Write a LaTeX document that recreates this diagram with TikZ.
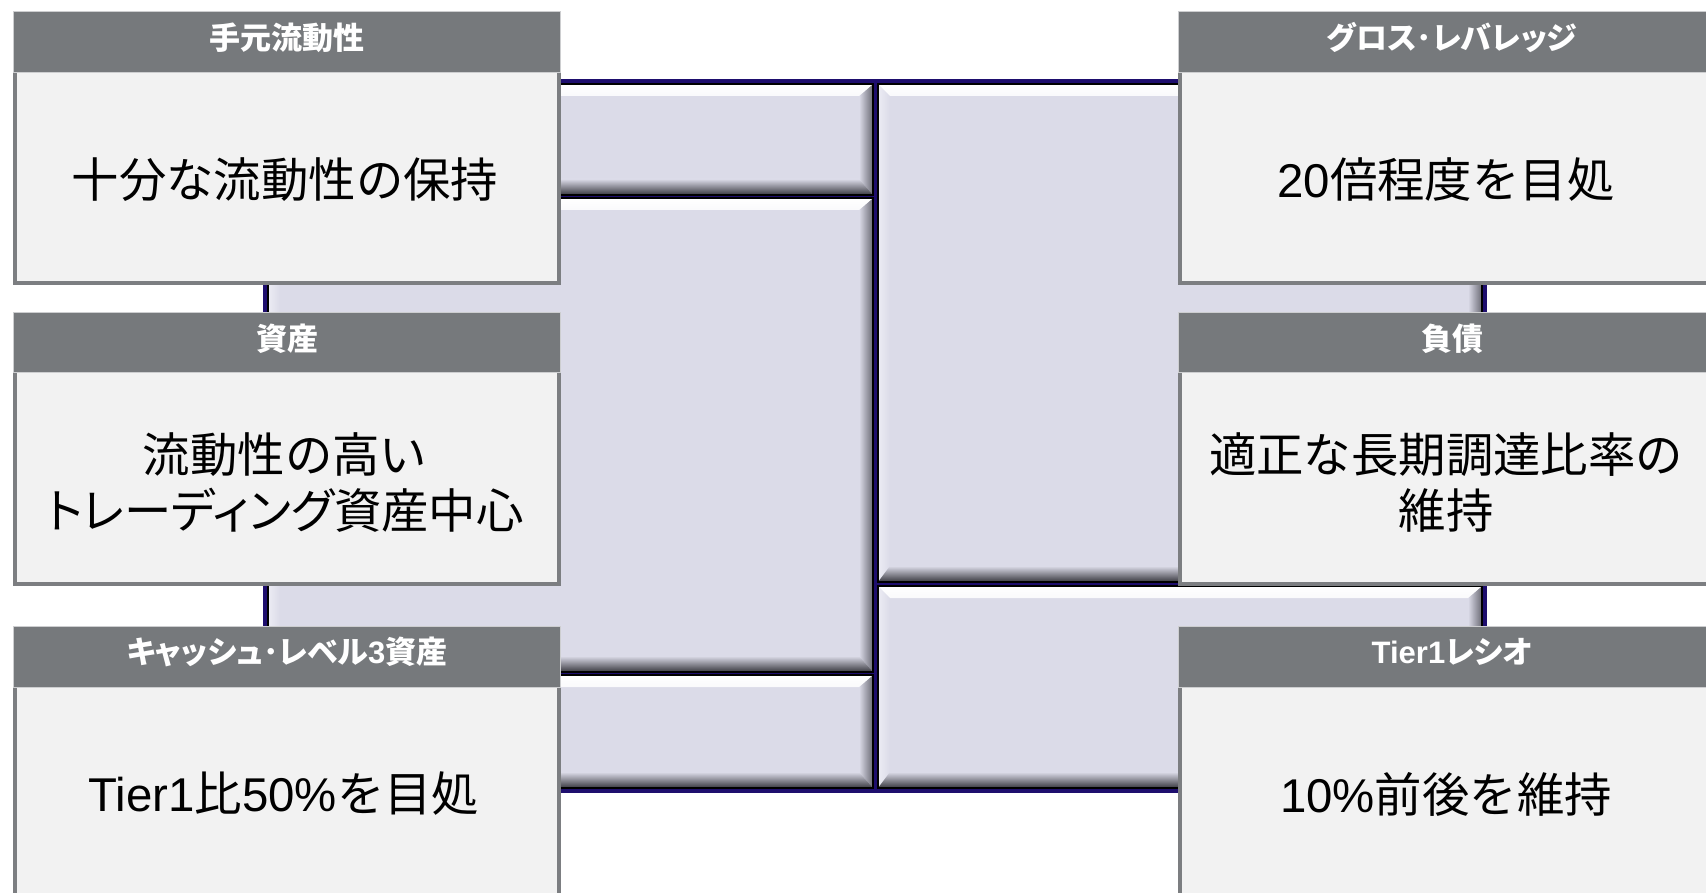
\documentclass[tikz,border=0pt]{standalone}
\usepackage{fontspec}
\setmainfont{Liberation Sans}
\newfontfamily\jp{Noto Sans CJK JP}
\newfontfamily\jpp{Noto Sans CJK JP}[RawFeature=+palt]
\newfontfamily\lt{Liberation Sans}
\definecolor{hdr}{RGB}{118,121,124}
\definecolor{hdrline}{RGB}{205,206,208}
\definecolor{bodyf}{RGB}{242,242,242}
\definecolor{bodyline}{RGB}{124,126,129}
\definecolor{navy}{RGB}{30,14,110}
\definecolor{lav}{RGB}{219,219,232}
\definecolor{lavhi}{RGB}{236,236,244}
\definecolor{lavsh}{RGB}{105,105,115}
\definecolor{lavmid}{RGB}{150,150,160}
\definecolor{lavdk}{RGB}{55,55,62}
\newcommand\bevpanel[4]{%
  \fill[lav] (#1,#2) rectangle (#3,#4);
  \shade[left color=lavhi, right color=lav] (#1,#2) -- ({#1+12},{#2+12}) -- ({#1+12},{#4-16}) -- (#1,#4) -- cycle;
  \shade[left color=lav, right color=lavsh] (#3,#2) -- ({#3-14},{#2+12}) -- ({#3-14},{#4-16}) -- (#3,#4) -- cycle;
  \shade[top color=lav, middle color=lavmid, bottom color=lavdk] (#1,#4) -- ({#1+12},{#4-16}) -- ({#3-14},{#4-16}) -- (#3,#4) -- cycle;
  \shade[top color=white, bottom color=white!85!lav] (#1,#2) -- ({#1+12},{#2+12}) -- ({#3-14},{#2+12}) -- (#3,#2) -- cycle;
  \draw[black, line width=1.1pt] (#1,#2) rectangle (#3,#4);
}
% x1, x2, header top, header bottom, body bottom
\newcommand\infobox[5]{%
  \fill[bodyf] (#1,#4) rectangle (#2,#5);
  \draw[bodyline, line width=2pt] ({#1+2},#4) -- ({#1+2},{#5-2}) -- ({#2-2},{#5-2}) -- ({#2-2},#4);
  \fill[hdr] (#1,#3) rectangle (#2,#4);
  \draw[hdrline, line width=0.5pt] ({#1+0.5},{#3+0.5}) rectangle ({#2-0.5},#4);
}
\tikzset{
  hd/.style={font=\jpp\bfseries\fontsize{15.5}{18}\selectfont, text=white, inner sep=0pt},
  bd/.style={font=\jp\fontsize{23.7}{28}\selectfont, text=black, align=center, inner sep=0pt}
}
\begin{document}
\begin{tikzpicture}[x=0.5pt,y=-0.5pt]
\useasboundingbox (0,0) rectangle (1706,893);
\clip (0,0) rectangle (1706,893);
\fill[white] (0,0) rectangle (1706,893);
% frame
\fill[navy] (263,79) rectangle (1487,793);
\bevpanel{268}{84}{873}{195}
\bevpanel{268}{198}{873}{672}
\bevpanel{268}{675}{873}{788}
\bevpanel{878}{84}{1482}{582}
\bevpanel{878}{586}{1482}{788}
% left boxes
\infobox{13}{561}{11}{73}{285}
\infobox{13}{561}{312}{372}{586}
\infobox{13}{561}{626}{687}{910}
% right boxes
\infobox{1178}{1726}{11}{73}{285}
\infobox{1178}{1726}{312}{372}{586}
\infobox{1178}{1726}{626}{687}{910}
% texts
\node[hd] (lh1) at (287,38) {手元流動性};
\node[bd] (lb1) at (285,180) {十分な流動性の保持};
\node[hd] (lh2) at (287,339) {資産};
\node[bd] (lb2) at (285,483) {流動性の高い\\{\jpp トレーディング}資産中心};
\node[hd] (lh3) at (287,652) {キャッシュ･レベル{\lt 3}資産};
\node[bd] (lb3) at (284,794) {{\lt Tier1}比{\lt 50\%}を目処};
\node[hd] (rh1) at (1452,38) {グロス･レバレッジ};
\node[bd] (rb1) at (1446,180) {{\lt 20}倍程度を目処};
\node[hd] (rh2) at (1452,339) {負債};
\node[bd] (rb2) at (1446,483) {適正な長期調達比率の\\維持};
\node[hd] (rh3) at (1452,652) {{\lt Tier1}レシオ};
\node[bd] (rb3) at (1446,794) {{\lt 10\%}前後を維持};
\end{tikzpicture}
\end{document}
